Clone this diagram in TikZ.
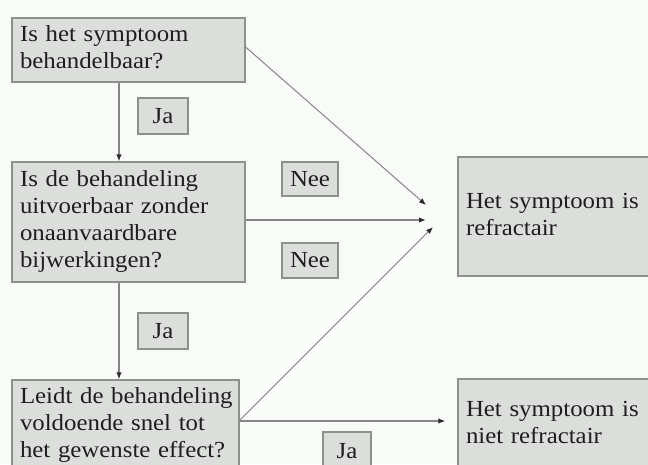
\documentclass[tikz,border=0pt]{standalone}
\usepackage{fontspec}
\setmainfont{Liberation Serif}[FakeStretch=1.08]
\usetikzlibrary{arrows.meta}
\definecolor{bgc}{HTML}{F9FBF9}
\definecolor{boxfill}{HTML}{DCDEDC}
\definecolor{boxline}{HTML}{8E908E}
\definecolor{linec}{HTML}{858585}
\definecolor{tipc}{HTML}{2A2A2A}
\definecolor{txt}{HTML}{1E1E1E}
\newcommand{\txtlines}[1]{\begin{tabular}{@{}l@{}}#1\end{tabular}}
\tikzset{
  x=1pt, y=1pt,
  box/.style={draw=boxline, fill=boxfill, line width=1.2pt, rectangle, inner xsep=8pt, inner ysep=0pt,
    align=left, text=txt, font=\fontsize{23}{27}\selectfont},
  lbl/.style={draw=boxline, fill=boxfill, line width=1.2pt, rectangle, inner sep=0pt, align=center,
    text=txt, font=\fontsize{23}{27}\selectfont},
  conn/.style={draw=linec, line width=1.6pt, -{Latex[length=7pt,width=5.5pt,fill=tipc,color=tipc]}},
  diag/.style={draw=linec, line width=1pt, -{Latex[length=7pt,width=5.5pt,fill=tipc,color=tipc]}}
}
\begin{document}
\begin{tikzpicture}
\fill[bgc] (0,0) rectangle (648,464);
\useasboundingbox (0,0) rectangle (648,464);
% question boxes
\node[box, minimum width=233, minimum height=64, text width=217] (q1) at (128.5,414)
  {\txtlines{Is het symptoom\\behandelbaar?}};
\node[box, minimum width=233, minimum height=120, text width=217] (q2) at (128.5,242)
  {\txtlines{Is de behandeling\\uitvoerbaar zonder\\onaanvaardbare\\bijwerkingen?}};
\node[box, minimum width=227, minimum height=90, text width=211] (q3) at (125.5,39)
  {\txtlines{Leidt de behandeling\\voldoende snel tot\\het gewenste effect?}};
% result boxes
\node[box, minimum width=194, minimum height=119, text width=178] (r1) at (555,247.5)
  {\txtlines{Het symptoom is\\refractair}};
\node[box, minimum width=194, minimum height=91, text width=178] (r2) at (555,39.5)
  {\txtlines{Het symptoom is\\niet refractair}};
% labels
\node[lbl, minimum width=50, minimum height=36] (ja1) at (163,348) {Ja};
\node[lbl, minimum width=50, minimum height=36] (ja2) at (163,133) {Ja};
\node[lbl, minimum width=56, minimum height=34] (nee1) at (310,285) {Nee};
\node[lbl, minimum width=56, minimum height=35] (nee2) at (310,203.5) {Nee};
\node[lbl, minimum width=48, minimum height=38] (ja3) at (347,13) {Ja};
% arrow ends
\coordinate (vx) at (119,0);
\coordinate (c1) at (426,259);
\coordinate (c2) at (426,244);
\coordinate (c3) at (433,237);
\coordinate (q3out) at (239,43);
% connectors
\draw[conn] (q1.south -| vx) -- (q2.north -| vx);
\draw[conn] (q2.south -| vx) -- (q3.north -| vx);
\draw[diag] ([yshift=3pt]q1.east) -- (c1);
\draw[conn] (q2.east |- c2) -- (c2);
\draw[diag] (q3out) -- (c3);
\draw[conn] (q3out) -- ([xshift=-12pt]r2.west |- q3out);
\end{tikzpicture}
\end{document}
